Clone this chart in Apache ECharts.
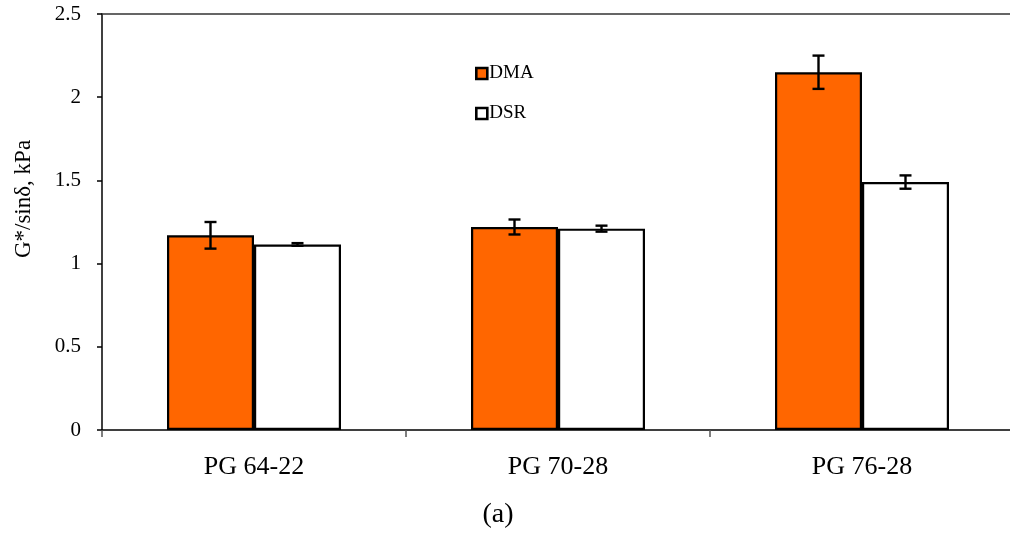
<!DOCTYPE html>
<html>
<head>
<meta charset="utf-8">
<script src="https://cdn.jsdelivr.net/npm/echarts@6/dist/echarts.min.js"></script>
<style>
  html, body { margin: 0; padding: 0; background: #fff; }
  #chart { width: 1010px; height: 534px; }
</style>
</head>
<body>
<div id="chart"></div>
<script>
// Binder grades and G*/sinδ measured by two methods
const categories = ['PG 64-22', 'PG 70-28', 'PG 76-28'];
const dmaValues = [1.17, 1.22, 2.15];
const dmaErrors = [0.08, 0.045, 0.10];
const dsrValues = [1.115, 1.21, 1.49];
const dsrErrors = [0.008, 0.018, 0.04];
const yTicks = [0, 0.5, 1, 1.5, 2, 2.5];

const FONT = 'Liberation Serif';
const BAR_W = 87;

const chart = echarts.init(document.getElementById('chart'), null, { renderer: 'canvas' });

// Error bar drawn from [categoryIndex, low, high], shifted to sit over its bar
function errorRenderer(shift) {
  return function (params, api) {
    const idx = api.value(0);
    const lo = api.coord([idx, api.value(1)]);
    const hi = api.coord([idx, api.value(2)]);
    const x = lo[0] + shift;
    const cap = 6;
    const style = { stroke: '#000', lineWidth: 2.4 };
    return {
      type: 'group',
      children: [
        { type: 'line', shape: { x1: x, y1: hi[1], x2: x, y2: lo[1] }, style },
        { type: 'line', shape: { x1: x - cap, y1: hi[1], x2: x + cap, y2: hi[1] }, style },
        { type: 'line', shape: { x1: x - cap, y1: lo[1], x2: x + cap, y2: lo[1] }, style }
      ]
    };
  };
}

const dmaErrData = dmaValues.map((v, i) => [i, v - dmaErrors[i], v + dmaErrors[i]]);
const dsrErrData = dsrValues.map((v, i) => [i, v - dsrErrors[i], v + dsrErrors[i]]);

chart.setOption({
  backgroundColor: '#fff',
  animation: false,
  textStyle: { fontFamily: FONT, color: '#000' },
  grid: { left: 102, top: 14, width: 912, height: 416, containLabel: false, outerBoundsMode: 'none' },
  legend: {
    orient: 'vertical',
    left: 475,
    top: 64,
    padding: 0,
    itemWidth: 11,
    itemHeight: 11,
    itemGap: 21,
    icon: 'rect',
    data: ['DMA', 'DSR'],
    itemStyle: { borderWidth: 2.6, borderColor: '#000' },
    textStyle: { fontFamily: FONT, fontSize: 19, color: '#000', padding: [0, 0, 0, -3] }
  },
  xAxis: [
    {
      type: 'category',
      data: categories,
      axisLine: { lineStyle: { color: '#000', width: 1.5 } },
      axisTick: { show: true, length: 7, lineStyle: { color: '#555', width: 1.5 } },
      axisLabel: { fontFamily: FONT, fontSize: 26, color: '#000', margin: 24 }
    },
    {
      type: 'category',
      position: 'top',
      data: categories,
      axisLine: { lineStyle: { color: '#333', width: 1.5 } },
      axisTick: { show: false },
      axisLabel: { show: false }
    }
  ],
  yAxis: {
    type: 'value',
    min: 0,
    max: 2.5,
    interval: 0.5,
    axisLine: { show: true, lineStyle: { color: '#000', width: 1.5 } },
    axisTick: { show: true, length: 5, lineStyle: { color: '#000', width: 1.5 } },
    axisLabel: {
      fontFamily: FONT, fontSize: 21, color: '#000', margin: 21,
      formatter: v => yTicks.includes(v) ? String(v) : ''
    },
    splitLine: { show: false }
  },
  series: [
    {
      name: 'DMA',
      type: 'bar',
      data: dmaValues,
      barWidth: BAR_W,
      barGap: '0%',
      itemStyle: { color: '#ff6600', borderColor: '#000', borderWidth: 2.2 }
    },
    {
      name: 'DSR',
      type: 'bar',
      data: dsrValues,
      barWidth: BAR_W,
      barGap: '0%',
      itemStyle: { color: '#ffffff', borderColor: '#000', borderWidth: 2.2 }
    },
    {
      type: 'custom',
      name: 'DMA error',
      data: dmaErrData,
      renderItem: errorRenderer(-BAR_W / 2),
      z: 10
    },
    {
      type: 'custom',
      name: 'DSR error',
      data: dsrErrData,
      renderItem: errorRenderer(BAR_W / 2),
      z: 10
    }
  ],
  graphic: [
    {
      type: 'text',
      x: 24,
      y: 199,
      rotation: Math.PI / 2,
      style: {
        text: 'G*/sinδ, kPa', fontFamily: FONT, fontSize: 23, fill: '#000',
        align: 'center', verticalAlign: 'middle'
      }
    },
    {
      type: 'text',
      x: 498,
      y: 515,
      style: {
        text: '(a)', fontFamily: FONT, fontSize: 28, fill: '#000',
        align: 'center', verticalAlign: 'middle'
      }
    }
  ]
});
</script>
</body>
</html>
